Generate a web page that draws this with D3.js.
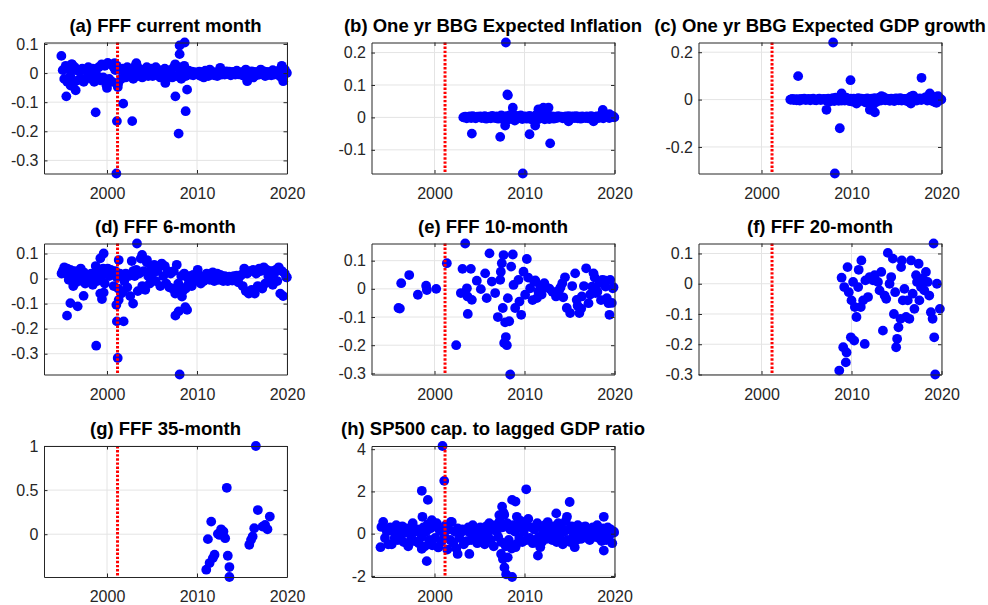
<!DOCTYPE html>
<meta charset="utf-8">
<head>
<style>
  body { margin: 0; background: #fff; }
  text { font-family: "Liberation Sans", Arial, Helvetica, sans-serif; }
  .title { font-weight: bold; font-size: 18.5px; fill: #000; }
  .tick text { font-size: 16px; fill: #262626; }
  .tick line, .domain { stroke: #262626; }
  .grid { stroke: #e4e4e4; stroke-width: 1; }
</style>
</head>
<body>
<script src="https://d3js.org/d3.v7.min.js"></script>
<script>
// shared x values (announcement dates, decimal years)
var meetingDates = [
  1995.08,1995.25,1995.42,1995.58,1995.75,1995.92,
  1996.08,1996.25,1996.42,1996.58,1996.75,1996.92,
  1997.08,1997.25,1997.42,1997.58,1997.75,1997.92,
  1998.08,1998.25,1998.42,1998.58,1998.75,1998.92,
  1999.08,1999.25,1999.42,1999.58,1999.75,1999.92,
  2000.08,2000.25,2000.42,2000.58,2000.75,2000.92,
  2001.08,2001.25,2001.42,2001.58,2001.75,2001.92,
  2002.08,2002.25,2002.42,2002.58,2002.75,2002.92,
  2003.08,2003.25,2003.42,2003.58,2003.75,2003.92,
  2004.08,2004.25,2004.42,2004.58,2004.75,2004.92,
  2005.08,2005.25,2005.42,2005.58,2005.75,2005.92,
  2006.08,2006.25,2006.42,2006.58,2006.75,2006.92,
  2007.08,2007.25,2007.42,2007.58,2007.75,2007.92,
  2008.08,2008.25,2008.42,2008.58,2008.75,2008.92,
  2009.08,2009.25,2009.42,2009.58,2009.75,2009.92,
  2010.08,2010.25,2010.42,2010.58,2010.75,2010.92,
  2011.08,2011.25,2011.42,2011.58,2011.75,2011.92,
  2012.08,2012.25,2012.42,2012.58,2012.75,2012.92,
  2013.08,2013.25,2013.42,2013.58,2013.75,2013.92,
  2014.08,2014.25,2014.42,2014.58,2014.75,2014.92,
  2015.08,2015.25,2015.42,2015.58,2015.75,2015.92,
  2016.08,2016.25,2016.42,2016.58,2016.75,2016.92,
  2017.08,2017.25,2017.42,2017.58,2017.75,2017.92,
  2018.08,2018.25,2018.42,2018.58,2018.75,2018.92,
  2019.08,2019.25,2019.42,2019.58,2019.75,2019.92
];

// (a) FFF current month
var fffCurrent = [
  0.01,-0.02,0.025,-0.03,0.015,-0.01,
  0.03,-0.035,0.02,0.01,-0.025,0.005,
  -0.02,0.015,-0.03,0.01,-0.015,0.02,
  0.005,-0.02,0.015,-0.03,0.01,-0.01,
  0.02,-0.025,0.03,-0.015,0.025,-0.04,
  0.035,-0.02,0.03,-0.03,0.02,0.01,
  0.025,-0.035,0.01,-0.02,0.015,0.005,
  -0.015,0.02,-0.01,0.015,0.005,-0.02,
  0.02,0.03,-0.01,0.015,0.005,-0.015,
  0.01,-0.005,0.02,-0.01,0.005,0.015,
  -0.01,0.01,0.02,-0.005,0.01,-0.015,
  0.005,-0.01,0.015,0.01,-0.005,0.005,
  0.01,-0.015,0.02,0.03,-0.01,0.02,
  0.015,-0.02,0.01,0.025,-0.01,0.005,
  0.008,-0.005,0.005,-0.008,0.003,0,
  -0.005,0.005,-0.01,0.003,-0.015,0.008,
  0.005,-0.01,0.012,-0.005,0.003,-0.008,
  0.002,-0.01,0.005,0.018,-0.005,0.004,
  -0.005,0.006,-0.003,0.005,-0.008,0.003,
  0.004,-0.005,0.008,-0.004,0.002,-0.006,
  0.003,-0.01,0.012,-0.028,0.005,-0.012,
  0.006,-0.015,0.004,-0.008,0.003,-0.005,
  0.012,-0.004,0.006,-0.01,0.004,-0.006,
  0.003,-0.008,0.01,-0.005,0.005,-0.004,
  0.008,-0.012,0.025,-0.028,0.012,0.002
];
var fffCurrentExtra = [
  [1994.93,0.059],[1995.48,-0.08],[1995.96,-0.043],[1996.1,0.03],[1996.52,-0.059],
  [1998.74,-0.135],[2000.0,-0.051],[2000.85,0.034],[2001.04,-0.345],[2001.1,-0.165],
  [2001.2,-0.048],[2001.8,-0.105],[2002.8,-0.165],[2003.26,0.034],[2006.48,-0.034],
  [2007.6,-0.08],[2007.96,-0.208],[2008.07,0.095],[2008.07,0.065],[2008.63,0.105],
  [2008.74,-0.131],[2008.9,-0.057],[2019.98,0]
];

// (b) One yr BBG expected inflation, from 2003.25
var bbgInflation = [
  0,0.002,-0.003,0.001,0.003,
  -0.002,0.004,0,-0.003,0.002,0.001,
  0.003,-0.002,0.001,0.004,-0.004,0,
  0.002,-0.003,0.005,0,-0.002,0.003,
  -0.004,0.002,0.006,-0.005,0.003,-0.008,
  0.004,-0.006,0.008,-0.004,0.002,-0.01,
  0.005,-0.003,0.004,0.006,-0.005,0.002,
  0.003,-0.004,0.002,0.005,-0.006,0.001,
  -0.008,0.006,0.01,-0.005,0.012,0.004,
  0.008,-0.006,0.01,0.004,-0.005,0.002,
  0.003,-0.004,0.002,-0.002,0.004,0,
  0.002,-0.003,0.001,0.003,-0.002,0.004,
  -0.005,0.002,0.003,-0.002,0.004,-0.003,
  0.002,-0.004,0.003,0.001,-0.002,0.003,
  -0.003,0.002,0.004,-0.006,-0.004,0.002,
  0.003,-0.002,0.005,0.008,-0.003,0.002,
  0.004,0.006,-0.002,0.003,0.005,0.001
];
var bbgInflationExtra = [
  [2003.2,0],[2004.15,-0.05],[2007.3,-0.06],[2007.93,0.231],[2008.1,0.071],[2008.15,0.068],
  [2008.7,0.03],[2007.85,-0.025],[2009.81,-0.173],[2010.56,-0.052],[2011.19,-0.025],
  [2011.55,0.025],[2012.1,0.03],[2012.67,0.03],[2012.85,-0.08],[2014.89,-0.012],
  [2017.67,-0.012],[2018.7,0.023],[2019.44,0.01],[2019.98,0]
];

// (c) One yr BBG expected GDP growth, from 2003.25
var bbgGdp = [
  0,0.003,-0.002,0.002,-0.003,
  0.002,-0.004,0.003,0,0.004,-0.002,
  0.001,0.003,-0.003,0.002,0.004,-0.002,
  -0.003,0.002,0.004,-0.002,0.001,0.003,
  0.002,-0.005,0.004,-0.008,0.003,0.006,
  -0.006,0.008,0.004,-0.005,0.01,-0.004,
  0.006,-0.004,0.008,0.003,-0.006,0.004,
  -0.008,0.004,-0.01,0.003,0.006,-0.005,
  0.004,-0.006,0.003,-0.012,0.005,0.002,
  -0.015,0.004,-0.02,0.006,-0.01,0.003,
  0.008,-0.004,0.005,0.01,-0.003,0.004,
  0.003,-0.005,0.004,0.002,-0.006,0.005,
  0.004,-0.003,0.006,-0.004,0.002,0.003,
  -0.005,0.004,-0.01,0.012,0.004,-0.003,
  0.006,-0.004,0.003,0.005,-0.002,0.004,
  0.005,0.01,-0.004,0.008,0.003,-0.005,
  0.004,-0.01,0.012,0.006,-0.004,0.002
];
var bbgGdpExtra = [
  [2003.2,0],[2004.07,0.099],[2007.22,-0.043],[2007.96,0.241],[2008.15,-0.312],[2008.7,-0.121],
  [2008.9,0.026],[2009.89,0.082],[2010.56,-0.017],[2012.04,-0.043],[2012.6,-0.054],
  [2013.33,0.014],[2016.6,-0.017],[2016.85,0.017],[2017.78,0.092],[2018.7,0.026],
  [2019.44,-0.014],[2019.63,0.014],[2019.98,0]
];

// (d) FFF 6-month
var fff6 = [
  0.03,0.045,0.02,0.04,-0.005,0.035,
  0.01,-0.03,0.03,-0.015,0.005,0.02,
  0.04,-0.01,0.025,-0.02,0.01,0.015,
  -0.01,0.02,-0.025,0.01,0.05,-0.01,
  0.03,-0.06,0.01,0.04,-0.02,0.025,
  0.04,0.01,0.035,0.02,-0.03,0.03,
  0.005,-0.04,0.02,-0.06,0.015,-0.01,
  0.02,-0.035,0.01,-0.07,0.07,0.03,
  0.01,0.035,-0.05,0.02,0.08,-0.03,
  0.03,-0.045,0.065,0.01,-0.02,0.04,
  0.02,0.055,-0.01,0.03,0.045,-0.03,
  0.06,0.01,0.05,-0.02,0.03,-0.035,
  0.02,-0.04,0.03,-0.06,0.055,-0.02,
  -0.03,0.01,-0.05,0.02,-0.04,0.005,
  -0.02,0.01,-0.03,0.015,-0.01,0.005,
  0.035,0.01,-0.02,0.005,-0.01,0.01,
  0.02,0.005,-0.005,0.015,0.025,-0.01,
  0.01,0.02,-0.005,0.015,0.005,-0.01,
  0.01,0.005,-0.01,0.008,0,-0.008,
  0.01,-0.005,0.012,-0.015,0.008,0.015,
  -0.03,0.04,-0.05,0.02,-0.06,0.03,
  -0.045,0.035,-0.06,0.02,-0.03,0.04,
  0.03,-0.04,0.045,-0.02,0.035,0.01,
  -0.01,0.03,-0.025,0.02,0.035,-0.01,
  0.045,-0.06,0.03,-0.07,0.02,0.005
];
var fff6Extra = [
  [1994.95,0.02],[1995.56,-0.148],[1995.93,-0.098],[1996.74,-0.111],[1997.4,-0.069],
  [1998.8,-0.268],[1999.26,0.081],[1999.63,0.1],[1999.44,-0.082],[1999.63,-0.056],
  [2001.04,-0.105],[2001.1,-0.171],[2001.3,0.074],[2001.19,-0.317],[2001.3,-0.085],
  [2001.85,-0.171],[2001.78,-0.052],[2002.9,-0.1],[2003.33,0.14],[2003.9,0.094],
  [2004.44,0.074],[2007.6,-0.148],[2007.96,-0.131],[2008.07,-0.383],[2008.33,-0.072],
  [2008.7,-0.114],[2008.9,-0.125],[2019.98,0.005]
];

// (e) FFF 10-month
var fff10 = [
  [1996.0,-0.068],[1996.15,-0.07],[1996.3,0.02],[1997.19,0.049],[1998.15,-0.021],
  [1999.07,0.011],[1999.15,-0.004],[2000.19,0],[2001.37,0.091],[2002.41,-0.2],
  [2002.93,-0.015],[2003.11,0.071],[2003.41,0.161],[2003.6,0.002],[2003.67,-0.027],
  [2003.7,-0.089],[2004.04,0.071],[2004.15,-0.039],[2004.7,0.029],[2005.15,-0.001],
  [2005.63,0.055],[2005.8,-0.033],[2006.11,0.126],[2006.37,0.026],[2006.74,-0.015],
  [2007.04,-0.1],[2007.3,0.032],[2007.37,0.061],[2007.48,0.091],[2007.67,0.12],
  [2007.59,-0.068],[2007.74,-0.192],[2007.93,-0.171],[2008.04,-0.2],[2007.85,-0.119],
  [2008.15,-0.033],[2008.3,-0.115],[2008.41,-0.304],[2008.52,0.079],[2008.7,0.122],
  [2008.78,0.014],[2008.96,-0.068],[2009.33,0.032],[2009.44,-0.045],[2009.63,-0.092],
  [2009.89,0.061],[2010.07,-0.021],[2010.26,0.106],[2010.4,0.04],[2010.63,0.002],
  [2010.9,-0.04],[2011.07,0.026],[2011.2,0.03],[2011.37,-0.033],[2011.55,-0.01],
  [2011.74,0.008],[2011.9,-0.02],[2012.0,0.012],[2012.2,0.02],[2012.4,0.006],
  [2012.75,0.001],[2013.1,-0.01],[2013.5,-0.027],[2013.85,-0.004],[2014.0,0.005],
  [2014.2,0.02],[2014.3,-0.03],[2014.5,0.041],[2014.7,-0.068],[2015.07,-0.086],
  [2015.3,0.01],[2015.63,0.055],[2015.8,-0.039],[2015.9,-0.06],[2016.1,-0.086],
  [2016.3,-0.07],[2016.37,-0.027],[2016.6,0.01],[2016.85,0.073],[2017.11,-0.051],
  [2017.3,-0.02],[2017.5,0.008],[2017.67,0.055],[2017.8,0.04],[2017.9,-0.015],
  [2018.1,-0.01],[2018.3,0.02],[2018.5,-0.04],[2018.65,0.032],[2018.9,0.03],
  [2019.0,0.008],[2019.15,-0.033],[2019.33,-0.051],[2019.44,-0.092],[2019.52,0.032],
  [2019.7,-0.05],[2019.81,0.002],[2019.89,0.006]
];

// (f) FFF 20-month
var fff20 = [
  [2008.64,-0.287],[2008.9,0.02],[2009.08,-0.21],[2009.19,-0.011],[2009.45,-0.227],
  [2009.37,-0.26],[2009.56,0.055],[2009.7,-0.028],[2009.93,-0.177],[2010.0,-0.055],
  [2010.18,0.006],[2010.3,-0.188],[2010.37,-0.077],[2010.55,-0.11],[2010.74,-0.011],
  [2010.8,0.046],[2011.03,-0.077],[2011.1,0.077],[2011.29,-0.055],[2011.47,-0.199],
  [2011.54,0.011],[2011.84,-0.044],[2012.02,0.022],[2012.39,0.011],[2012.57,0.028],
  [2012.94,0.006],[2013.12,-0.022],[2013.31,0.039],[2013.49,-0.155],[2013.68,-0.039],
  [2013.86,-0.05],[2014.04,0.102],[2014.23,0],[2014.41,0.022],[2014.6,0.083],
  [2014.71,-0.1],[2014.85,-0.028],[2014.96,-0.21],[2015.07,-0.182],[2015.22,-0.144],
  [2015.44,-0.116],[2015.51,0.055],[2015.59,0.077],[2015.7,-0.055],[2015.88,-0.017],
  [2016.07,-0.11],[2016.25,-0.055],[2016.43,-0.116],[2016.62,0.077],[2016.8,-0.033],
  [2016.99,-0.083],[2017.17,0.028],[2017.28,0.006],[2017.46,0.066],[2017.54,-0.055],
  [2017.72,-0.011],[2017.9,0.017],[2018.09,-0.022],[2018.27,0.039],[2018.46,0.006],
  [2018.64,-0.039],[2018.82,-0.094],[2019.01,-0.116],[2019.12,0.133],[2019.19,-0.177],
  [2019.3,-0.3],[2019.49,0],[2019.82,-0.083]
];

// (g) FFF 35-month
var fff35 = [
  [2011.03,-0.402],[2011.21,-0.056],[2011.4,-0.327],[2011.58,0.143],[2011.76,-0.271],
  [2011.95,-0.233],[2012.32,0.004],[2012.5,-0.008],[2012.68,0.056],[2012.94,0.03],
  [2013.13,-0.045],[2013.31,0.526],[2013.42,-0.244],[2013.6,-0.372],[2013.6,-0.485],
  [2015.81,-0.12],[2016.0,-0.064],[2016.18,-0.026],[2016.36,0.068],[2016.54,1.0],
  [2016.76,0.274],[2017.28,0.086],[2017.57,0.105],[2017.83,0.056],[2018.09,0.2]
];

// (h) SP500 cap. to lagged GDP ratio
var spGdp = [
  0.3,-0.5,0.1,-0.2,0.4,-0.3,
  0.2,-0.1,0.35,-0.4,0.05,0.25,
  -0.6,0.15,-0.2,0.5,-0.35,0.1,
  0.2,-0.45,0.05,-0.15,0.3,-0.6,
  0.1,0.45,-0.3,0.25,-0.55,0.35,
  -0.2,0.5,-0.65,0.15,-0.4,0.3,
  -0.1,0.4,-0.75,0.2,-0.3,0.55,
  -0.45,0.1,-0.7,0.25,-0.2,0.05,
  0.2,-0.5,0.15,-0.35,0.3,0.05,
  -0.3,0.4,-0.1,0.2,-0.45,0.1,
  0.3,-0.2,0.15,-0.5,0.35,-0.05,
  0.5,-0.3,0.2,-0.6,0.4,0.1,
  -0.15,0.6,-0.4,0.3,0.9,-0.6,
  0.5,-0.3,0.2,-0.7,0.4,0.1,
  -0.5,0.3,-0.2,0.6,-0.4,0.1,
  0.4,-0.3,0.7,-0.2,0.3,-0.45,
  0.2,-0.3,0.5,-0.15,0.3,-0.4,
  0.1,0.4,-0.25,0.55,-0.1,0.2,
  -0.3,0.35,0.05,-0.4,0.5,-0.2,
  0.3,-0.5,0.1,0.6,-0.3,0.2,
  -0.4,0.35,-0.1,0.2,-0.3,0.4,
  0.1,-0.25,0.3,-0.1,0.35,-0.2,
  0.2,-0.3,0.1,0.3,-0.15,0.05,
  0.4,-0.2,0.1,-0.35,0.25,0,
  -0.3,0.3,-0.1,0.2,-0.45,0.1
];
var spGdpExtra = [
  [1994.0,-0.64],[1994.1,0.32],[1994.3,0.56],[1994.5,-0.2],[1994.7,0.1],[1994.85,-0.5],
  [1998.59,2.03],[1999.26,1.6],[1998.66,0.8],[1998.59,-0.72],[1999.14,-1.3],[1999.7,0.64],
  [2000.89,4.15],[2001.08,2.5],[2001.82,0.56],[2002.57,-0.96],[2003.87,-0.96],
  [2007.51,1.28],[2007.65,1.0],[2007.2,0.88],[2007.4,-0.96],[2007.6,-1.2],[2007.77,-1.6],
  [2008.14,-1.12],[2007.96,-1.92],[2008.62,-2.05],[2008.62,1.6],[2009.0,1.52],[2009.0,-0.64],
  [2009.15,0.8],[2009.63,0.56],[2010.19,2.1],[2011.49,-1.04],[2011.75,-0.64],[2013.53,0.96],
  [2014.72,0.8],[2015.02,1.5],[2015.58,-0.64],[2018.81,0.8],[2018.81,-0.8],[2019.95,0.05]
];

// tick values
var xTicks = [2000, 2010, 2020];
var xDomain = [1993, 2020];
var breakDate = 2001.17;

// layout (3x3 grid, matlab style)
var colLeft = [44, 371.5, 698.5],
    rowTop = [42.5, 243.5, 446],
    pw = 243, ph = 131;

var svg = d3.select("body").append("svg")
    .attr("width", 988)
    .attr("height", 605);

function pairUp(dates, vals) {
  var out = [];
  vals.forEach(function(v, i) { out.push([dates[i], v]); });
  return out;
}
var bbgDates = meetingDates.filter(function(d) { return d > 2003.2; });

var panels = [
  { col: 0, row: 0, title: "(a) FFF current month", yTicks: [-0.3,-0.2,-0.1,0,0.1],
    points: pairUp(meetingDates, fffCurrent).concat(fffCurrentExtra) },
  { col: 1, row: 0, title: "(b) One yr BBG Expected Inflation", yTicks: [-0.1,0,0.1,0.2],
    points: pairUp(bbgDates, bbgInflation).concat(bbgInflationExtra) },
  { col: 2, row: 0, title: "(c) One yr BBG Expected GDP growth", yTicks: [-0.2,0,0.2],
    points: pairUp(bbgDates, bbgGdp).concat(bbgGdpExtra) },
  { col: 0, row: 1, title: "(d) FFF 6-month", yTicks: [-0.3,-0.2,-0.1,0,0.1],
    points: pairUp(meetingDates, fff6).concat(fff6Extra) },
  { col: 1, row: 1, title: "(e) FFF 10-month", yTicks: [-0.3,-0.2,-0.1,0,0.1],
    points: fff10 },
  { col: 2, row: 1, title: "(f) FFF 20-month", yTicks: [-0.3,-0.2,-0.1,0,0.1],
    points: fff20 },
  { col: 0, row: 2, title: "(g) FFF 35-month", yTicks: [0,0.5,1],
    points: fff35 },
  { col: 1, row: 2, title: "(h) SP500 cap. to lagged GDP ratio", yTicks: [-2,0,2,4],
    points: pairUp(meetingDates, spGdp).concat(spGdpExtra) }
];

function drawPanel(p) {
  var g = svg.append("g")
      .attr("transform", "translate(" + colLeft[p.col] + "," + rowTop[p.row] + ")");

  var x = d3.scaleLinear().domain(xDomain).range([0, pw]);
  // axis tight in y
  var y = d3.scaleLinear()
      .domain(d3.extent(p.points, function(d) { return d[1]; }))
      .range([ph, 0]);

  // grid lines
  g.selectAll(".gx").data(xTicks).enter().append("line")
      .attr("class", "grid")
      .attr("x1", function(d) { return x(d); }).attr("x2", function(d) { return x(d); })
      .attr("y1", 0).attr("y2", ph);
  g.selectAll(".gy").data(p.yTicks).enter().append("line")
      .attr("class", "grid")
      .attr("x1", 0).attr("x2", pw)
      .attr("y1", function(d) { return y(d); }).attr("y2", function(d) { return y(d); });

  // scatter
  g.selectAll("circle").data(p.points).enter().append("circle")
      .attr("cx", function(d) { return x(d[0]); })
      .attr("cy", function(d) { return y(d[1]); })
      .attr("r", 4.9)
      .style("fill", "#0000ff");

  // red dotted break line
  g.append("line")
      .attr("x1", x(breakDate)).attr("x2", x(breakDate))
      .attr("y1", 0).attr("y2", ph)
      .style("stroke", "#ff0000")
      .style("stroke-width", 3)
      .style("stroke-dasharray", "2.4,1.7");

  // axes (ticks pointing inward, box on)
  g.append("g")
      .attr("transform", "translate(0," + ph + ")")
      .call(d3.axisBottom(x).tickValues(xTicks).tickFormat(d3.format("d"))
            .tickSizeInner(-3.5).tickSizeOuter(0).tickPadding(14));
  g.append("g")
      .call(d3.axisTop(x).tickValues(xTicks).tickFormat("")
            .tickSizeInner(-3.5).tickSizeOuter(0));
  g.append("g")
      .call(d3.axisLeft(y).tickValues(p.yTicks).tickFormat(function(d) { return String(d); })
            .tickSizeInner(-3.5).tickSizeOuter(0).tickPadding(5.5));
  g.append("g")
      .attr("transform", "translate(" + pw + ",0)")
      .call(d3.axisRight(y).tickValues(p.yTicks).tickFormat("")
            .tickSizeInner(-3.5).tickSizeOuter(0));

  g.selectAll(".tick text").attr("font-family", null).attr("font-size", null);
  g.selectAll(".domain").style("stroke-width", 1);

  // title
  g.append("text")
      .attr("class", "title")
      .attr("x", pw / 2)
      .attr("y", -11)
      .attr("text-anchor", "middle")
      .text(p.title);
}

panels.forEach(drawPanel);
</script>
</body>
